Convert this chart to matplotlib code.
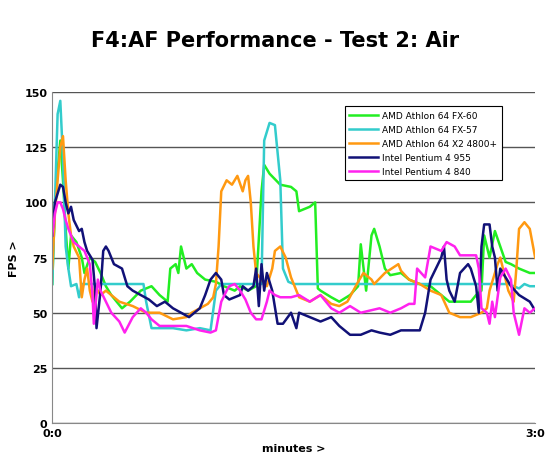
import matplotlib
matplotlib.use("Agg")
import matplotlib.pyplot as plt

fx60_t = [0,1,3,4,5,6,7,9,11,12,14,16,18,20,22,24,26,29,33,37,40,43,44,46,47,48,50,52,54,57,61,64,68,70,73,76,78,79,81,85,89,91,92,96,98,99,100,104,107,111,114,115,117,119,120,122,124,126,130,133,137,141,145,148,152,156,158,160,161,163,165,167,169,171,174,178,180]
fx60_v = [63,100,128,110,88,70,85,82,75,68,75,73,68,62,58,55,52,55,60,62,58,55,70,72,68,80,70,72,68,65,64,62,60,62,60,62,105,117,113,108,107,105,96,98,100,61,60,57,55,58,62,81,60,85,88,80,70,67,68,65,63,62,58,55,55,55,58,60,85,75,87,80,73,72,70,68,68]

fx57_t = [0,1,2,3,4,5,6,7,9,10,11,13,18,25,30,34,35,37,45,50,55,59,61,63,70,78,79,81,83,85,86,88,90,100,120,140,160,170,174,176,178,180]
fx57_v = [63,100,140,146,120,80,70,62,63,57,63,63,63,63,63,63,55,43,43,42,43,42,60,63,63,63,128,136,135,110,70,64,63,63,63,63,63,63,61,63,62,62]

x2_t = [0,1,2,3,4,5,6,7,8,10,11,12,13,14,15,16,18,20,22,25,30,35,40,45,50,52,55,58,60,61,62,63,65,67,69,71,72,73,74,75,76,78,80,82,83,85,87,89,92,96,100,104,107,110,114,116,119,120,124,129,130,133,137,141,145,148,152,156,160,162,163,166,167,170,172,173,174,176,178,180]
x2_v = [70,95,110,125,130,110,95,85,80,75,57,65,70,60,55,62,58,60,58,55,53,50,50,47,48,50,52,54,57,63,80,105,110,108,112,105,110,112,100,80,68,65,62,70,78,80,75,66,57,55,58,54,53,55,64,68,65,63,68,72,69,65,63,60,58,50,48,48,50,52,60,72,75,60,55,70,88,91,88,75]

p955_t = [0,1,3,4,5,6,7,8,10,11,12,13,14,15,16,16.5,18,19,20,21,23,26,28,30,33,36,39,42,45,48,51,53,55,57,59,61,63,64,66,68,70,71,73,75,76,77,78,79,80,82,84,86,89,91,92,96,100,104,107,111,115,119,122,126,130,137,139,141,145,146,147,148,150,152,155,156,158,159,160,161,163,164,165,166,167,171,174,178,180]
p955_v = [85,100,108,107,100,95,98,92,87,88,82,78,76,74,60,43,60,78,80,78,72,70,62,60,58,56,53,55,52,50,48,50,52,58,65,68,65,58,56,57,58,62,60,62,70,53,72,60,68,60,45,45,50,43,50,48,46,48,44,40,40,42,41,40,42,42,50,65,75,80,65,60,55,68,72,70,62,50,80,90,90,80,75,60,70,62,58,55,51]

p840_t = [0,1,2,3,4,5,6,7,8,10,12,14,15,15.5,17,18,20,22,25,27,30,33,35,37,40,45,50,55,59,61,63,65,66,68,70,72,74,76,78,80,81,83,85,89,92,96,100,104,107,111,115,122,126,130,133,135,136,139,141,145,147,150,152,158,159,160,162,163,164,165,167,169,171,172,174,176,178,180]
p840_v = [85,95,100,100,97,92,88,85,82,80,78,72,58,45,65,60,55,50,46,41,48,52,50,47,44,44,44,42,41,42,55,60,62,63,60,56,50,47,47,55,60,58,57,57,58,55,58,52,50,53,50,52,50,52,54,54,70,66,80,78,82,80,76,76,70,52,50,45,55,48,66,70,65,50,40,52,50,52]

series = [
    ("AMD Athlon 64 FX-60", fx60_t, fx60_v, "#22ee22"),
    ("AMD Athlon 64 FX-57", fx57_t, fx57_v, "#33cccc"),
    ("AMD Athlon 64 X2 4800+", x2_t, x2_v, "#ff9911"),
    ("Intel Pentium 4 955", p955_t, p955_v, "#111177"),
    ("Intel Pentium 4 840", p840_t, p840_v, "#ff22ee"),
]
yticks = [0, 25, 50, 75, 100, 125, 150]
xtick_pos = [0, 180]
xtick_lab = ["0:0", "3:0"]

fig = plt.figure(figsize=(5.5, 4.77), dpi=100)
ax = fig.add_axes([0.095, 0.111, 0.878, 0.694])
for name, t, v, c in series:
    ax.plot(t, v, color=c, lw=1.8, label=name)
ax.set_xlim(0, 180)
ax.set_ylim(0, 150)
ax.set_yticks(yticks)
ax.set_xticks(xtick_pos)
ax.set_xticklabels(xtick_lab)
ax.tick_params(labelsize=8, length=0)
for lab in ax.get_xticklabels() + ax.get_yticklabels():
    lab.set_fontweight("bold")
ax.yaxis.grid(True, color="#555555", lw=1)
ax.set_axisbelow(True)
for s in ["top", "right"]:
    ax.spines[s].set_visible(False)
ax.spines["left"].set_color("#888888")
ax.spines["bottom"].set_color("#888888")
ax.set_ylabel("FPS >", fontsize=8, fontweight="bold")
ax.set_xlabel("minutes >", fontsize=8, fontweight="bold", labelpad=4)
fig.text(0.5, 0.915, "F4:AF Performance - Test 2: Air", ha="center", va="center",
         fontsize=15, fontweight="bold")
leg = ax.legend(loc="upper left", bbox_to_anchor=(0.596, 0.97), fontsize=6.5,
                frameon=True, fancybox=False, edgecolor="black", framealpha=1,
                handlelength=3.2, handletextpad=0.5, labelspacing=0.55, borderpad=0.5)
leg.get_frame().set_linewidth(0.8)
fig.savefig("out.png", dpi=100)
